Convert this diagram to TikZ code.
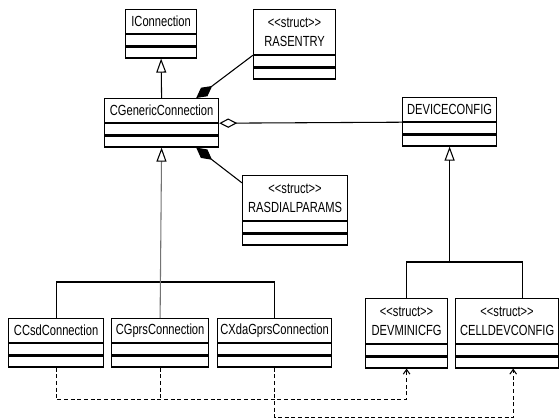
\documentclass[tikz,border=0pt]{standalone}
\usepackage{fontspec}
\newfontfamily\umlfont{Liberation Sans}[FakeStretch=0.76]
\usetikzlibrary{positioning,arrows.meta}

\tikzset{
  cls/.style={draw, line width=0.9pt, inner sep=0pt, anchor=north west, minimum width=0.75*#1pt, minimum height=18pt, align=center, font=\umlfont\fontsize{11}{14.5}\selectfont},
  struct/.style={cls=#1, minimum height=33.75pt},
  part/.style={draw, line width=0.9pt, inner sep=0pt, minimum width=0.75*#1pt, minimum height=8.25pt},
  link/.style={line width=0.8pt},
  inherit/.style={link, -{Triangle[open, color=black, length=10.5pt, width=7.5pt]}},
  comp/.style={link, {Diamond[length=15pt, width=8pt]}-},
  aggr/.style={link, {Diamond[open, length=13.5pt, width=7pt]}-},
  dashlink/.style={link, dash pattern=on 3pt off 2pt},
  dep/.style={dashlink, -{Straight Barb[length=3.5pt, width=5pt]}}
}
\newcommand{\stereo}{<\kern0pt<struct>\kern0pt>}

\begin{document}
\begin{tikzpicture}[x=0.75pt,y=0.75pt,yscale=-1,xscale=1]
\useasboundingbox (0,0) rectangle (560,420);

%Class: IConnection
\node[cls=71] (icon) at (125,9) {IConnection};
\node[part=71, below=0pt of icon] (icon1) {};
\node[part=71, below=0pt of icon1] (icon2) {};
%Class: RASENTRY
\node[struct=82] (ras) at (253,9) {\stereo\\RASENTRY};
\node[part=82, below=0pt of ras] (ras1) {};
\node[part=82, below=0pt of ras1] (ras2) {};
%Class: CGenericConnection
\node[cls=114] (gen) at (104,98) {CGenericConnection};
\node[part=114, below=0pt of gen] (gen1) {};
\node[part=114, below=0pt of gen1] (gen2) {};
%Class: DEVICECONFIG
\node[cls=94] (dev) at (402,97) {DEVICECONFIG};
\node[part=94, below=0pt of dev] (dev1) {};
\node[part=94, below=0pt of dev1] (dev2) {};
%Class: RASDIALPARAMS
\node[struct=105] (rdp) at (242,175) {\stereo\\RASDIALPARAMS};
\node[part=105, below=0pt of rdp] (rdp1) {};
\node[part=105, below=0pt of rdp1] (rdp2) {};
%Class: CCsdConnection
\node[cls=95] (csd) at (8,318) {CCsdConnection};
\node[part=95, below=0pt of csd] (csd1) {};
\node[part=95, below=0pt of csd1] (csd2) {};
%Class: CGprsConnection
\node[cls=97] (gprs) at (111,318) {CGprsConnection};
\node[part=97, below=0pt of gprs] (gprs1) {};
\node[part=97, below=0pt of gprs1] (gprs2) {};
%Class: CXdaGprsConnection
\node[cls=114] (xda) at (217,318) {CXdaGprsConnection};
\node[part=114, below=0pt of xda] (xda1) {};
\node[part=114, below=0pt of xda1] (xda2) {};
%Class: DEVMINICFG
\node[struct=82] (mini) at (365,298) {\stereo\\DEVMINICFG};
\node[part=82, below=0pt of mini] (mini1) {};
\node[part=82, below=0pt of mini1] (mini2) {};
%Class: CELLDEVCONFIG
\node[struct=103] (cell) at (455,298) {\stereo\\CELLDEVCONFIG};
\node[part=103, below=0pt of cell] (cell1) {};
\node[part=103, below=0pt of cell1] (cell2) {};

%Inheritance
\draw[inherit] (gen.north) -- (icon2.south);
\draw[link] (csd.north) -- ++(0,-36) -| (xda.north);
\draw[inherit, draw=black!55] (gprs.north) -- (gen2.south);
\draw[link] (mini.north) -- ++(0,-36) coordinate (devbus) -| (cell.56);
\draw[inherit] (dev2.south |- devbus) -- (dev2.south);

%Composition and aggregation
\draw[comp] (gen.20) -- (ras.south west);
\draw[comp] (gen2.-10) -- (rdp.164);
\draw[aggr] (gen.south east) -- (dev.south west);

%Dependencies
\draw[dep] (csd2.south) -- ++(0,32) -| (mini2.south);
\draw[dashlink] (gprs2.south) -- ++(0,32);
\draw[dep] (xda2.south) -- ++(0,50) -| (cell2.-45);

\end{tikzpicture}
\end{document}
